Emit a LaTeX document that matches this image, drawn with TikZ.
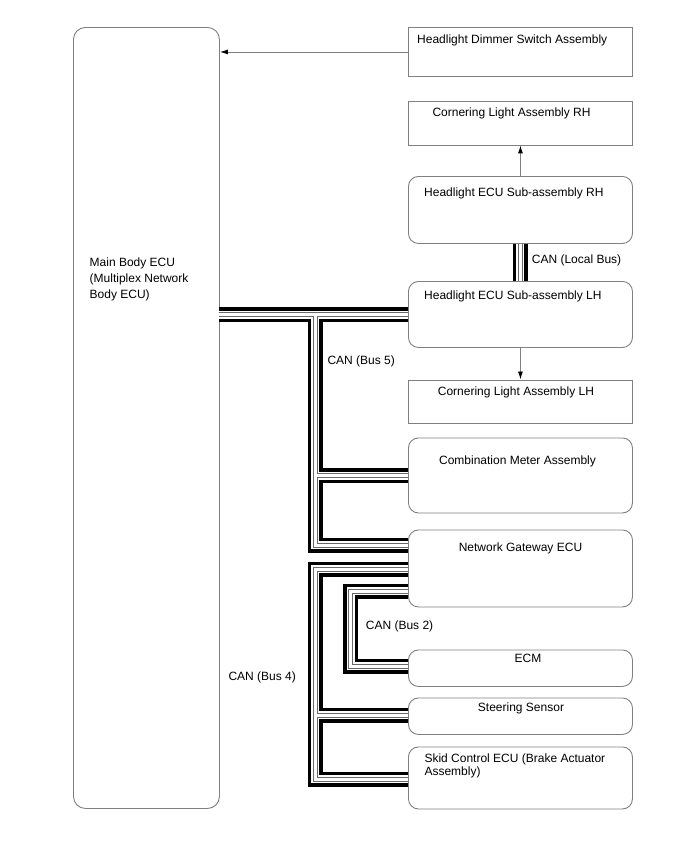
\documentclass[tikz,border=0pt]{standalone}
\usepackage{fontspec}
\setmainfont{Liberation Sans}
\usetikzlibrary{arrows.meta}
\definecolor{boxgray}{RGB}{128,128,128}
\definecolor{wiregray}{RGB}{105,105,105}
\begin{document}
\begin{tikzpicture}[x=1pt,y=-1pt,
  box/.style={draw=boxgray, line width=0.9pt, inner sep=0pt, anchor=north west, minimum width=224pt},
  rbox/.style={box, rounded corners=10pt},
  lbl/.style={anchor=base west, inner sep=0pt, font=\fontsize{12}{14}\selectfont},
  clbl/.style={lbl, anchor=base},
  arr/.style={draw=boxgray, line width=0.9pt, -{Latex[length=8pt,width=5pt,color=black]}},
  buslayer/.style={line join=miter, line cap=butt}
]
\useasboundingbox[fill=white] (0,0) rectangle (688,852);

% boxes
\node[box, rounded corners=12pt, minimum width=146pt, minimum height=781pt] (main) at (73,27) {};
\node[box, minimum height=49pt] (dimmer) at (408,27) {};
\node[box, minimum height=44pt] (crh) at (408,100.5) {};
\node[rbox, minimum height=67pt] (hrh) at (408,176) {};
\node[rbox, minimum height=66pt] (hlh) at (408,281) {};
\node[box, minimum height=43pt] (clh) at (408,379.5) {};
\node[rbox, minimum height=75pt] (cmeter) at (408,437.5) {};
\node[rbox, minimum height=77pt] (gw) at (408,529.5) {};
\node[rbox, minimum height=36.5pt] (ecm) at (408,649.5) {};
\node[rbox, minimum height=36.5pt] (steer) at (408,697.5) {};
\node[rbox, minimum height=62pt] (skid) at (408,746.5) {};

% texts
\node[lbl] (tmain1) at (89.5,266.7) {Main Body ECU};
\node[lbl] (tmain2) at (89.5,282.8) {(Multiplex Network};
\node[lbl] (tmain3) at (89.5,298.8) {Body ECU)};
\node[lbl] (tdimmer) at (417,43) {Headlight Dimmer Switch Assembly};
\node[lbl] (tcrh) at (432.3,116) {Cornering Light Assembly RH};
\node[lbl] (thrh) at (424,196.7) {Headlight ECU Sub-assembly RH};
\node[lbl] (thlh) at (424,299.5) {Headlight ECU Sub-assembly LH};
\node[lbl] (tclh) at (437.7,395) {Cornering Light Assembly LH};
\node[clbl] (tcmeter) at (517.5,464) {Combination Meter Assembly};
\node[clbl] (tgw) at (520.5,551) {Network Gateway ECU};
\node[clbl] (tecm) at (528,662) {ECM};
\node[clbl] (tsteer) at (521,711) {Steering Sensor};
\node[lbl] (tskid1) at (424.3,762) {Skid Control ECU (Brake Actuator};
\node[lbl] (tskid2) at (424.3,775.7) {Assembly)};
\node[lbl] (tlocal) at (531.7,263) {CAN (Local Bus)};
\node[lbl] (tbus5) at (327.3,364) {CAN (Bus 5)};
\node[lbl] (tbus2) at (365.7,629) {CAN (Bus 2)};
\node[lbl] (tbus4) at (228.3,680) {CAN (Bus 4)};

% arrows
\draw[arr] (dimmer.west) -- (dimmer.west -| main.east);
\draw[arr] (hrh.north) -- (crh.south);
\draw[arr] (hlh.south) -- (clh.north);

% bus coordinates
\coordinate (j5) at (315,314.5);
\coordinate (e5) at (408,314.5);
\coordinate (s5) at (219,314.5);
\coordinate (cm5) at (408,475.5);
\coordinate (g5) at (408,545);
\coordinate (g4) at (408,569);
\coordinate (c4a) at (315,569);
\coordinate (c4b) at (315,779);
\coordinate (sk4) at (408,779);
\coordinate (st4) at (408,715);
\coordinate (g2) at (408,591);
\coordinate (c2a) at (350.5,591);
\coordinate (c2b) at (350.5,666);
\coordinate (ec2) at (408,666);

\foreach \w/\c in {15/black,8/white,5/wiregray,3/white}{
  \draw[buslayer, line width=\w pt, draw=\c]
    (s5) -- (e5)
    (j5) |- (g5)
    (j5 |- cm5) -- (cm5)
    (g4) -- (c4a) -- (c4b) -- (sk4)
    (c4a |- st4) -- (st4)
    (g2) -- (c2a) -- (c2b) -- (ec2)
    (hrh.south) -- (hlh.north);
}
\end{tikzpicture}
\end{document}
